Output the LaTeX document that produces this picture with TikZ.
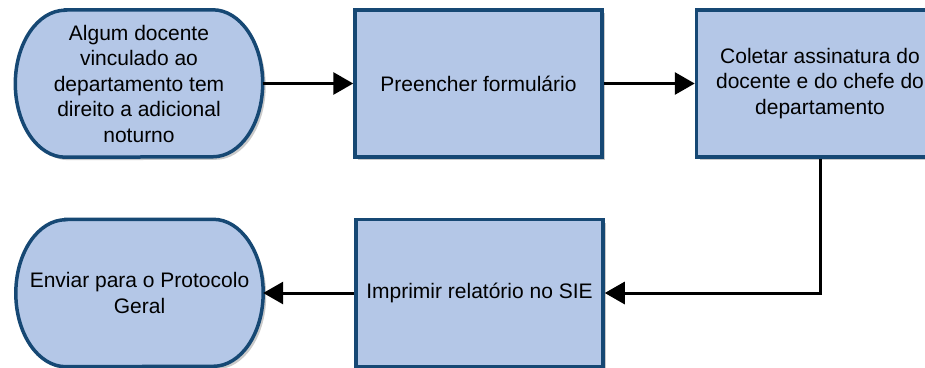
\documentclass[tikz,border=0pt]{standalone}
\usepackage{fontspec}
\setmainfont{Liberation Sans}
\usetikzlibrary{arrows.meta,shadows,calc,backgrounds}
\definecolor{boxfill}{RGB}{180,199,231}
\definecolor{boxline}{RGB}{22,72,116}
\tikzset{
  x=1pt, y=-1pt,
  txt/.style={align=center, font=\fontsize{21pt}{25.5pt}\selectfont, inner sep=0pt},
  procbox/.style={txt, draw=boxline, fill=boxfill, line width=3.5pt,
    minimum width=247pt, minimum height=147pt,
    drop shadow={shadow xshift=3pt, shadow yshift=-3pt, opacity=0.35, fill=black!60}},
  termbox/.style={txt, minimum width=247pt, minimum height=147pt},
  stadium/.style={draw=boxline, fill=boxfill, line width=3.5pt,
    drop shadow={shadow xshift=3pt, shadow yshift=-3pt, opacity=0.35, fill=black!60}},
  arr/.style={draw=black, line width=3pt, -{Triangle[length=20pt,width=22pt]}}
}
\begin{document}
\begin{tikzpicture}
\clip (0,0) rectangle (925,367);
\useasboundingbox (0,0) rectangle (925,367);
\node[termbox] (start) at (139,83.5) {Algum docente\\vinculado ao\\departamento tem\\direito a adicional\\noturno};
\node[procbox] (fill) at (478.5,83.5) {Preencher formulário};
\node[procbox] (collect) at (820,83.5) {Coletar assinatura do\\docente e do chefe do\\departamento};
\node[procbox] (print) at (479.5,293) {Imprimir relatório no SIE};
\node[termbox] (send) at (139.5,293) {Enviar para o Protocolo\\Geral};
\begin{scope}[on background layer]
\draw[stadium] ($(start.north west)+(50,0)$) -- ($(start.north east)+(-50,0)$)
  arc[start angle=90, end angle=-90, x radius=50pt, y radius=73.5pt]
  -- ($(start.south west)+(50,0)$)
  arc[start angle=270, end angle=90, x radius=50pt, y radius=73.5pt] -- cycle;
\draw[stadium] ($(send.north west)+(50,0)$) -- ($(send.north east)+(-50,0)$)
  arc[start angle=90, end angle=-90, x radius=50pt, y radius=73.5pt]
  -- ($(send.south west)+(50,0)$)
  arc[start angle=270, end angle=90, x radius=50pt, y radius=73.5pt] -- cycle;
\end{scope}
\draw[arr] (start.east) -- (fill.west);
\draw[arr] (fill.east) -- (collect.west);
\draw[arr] (collect.south) |- (print.east);
\draw[arr] (print.west) -- (send.east);
\end{tikzpicture}
\end{document}
